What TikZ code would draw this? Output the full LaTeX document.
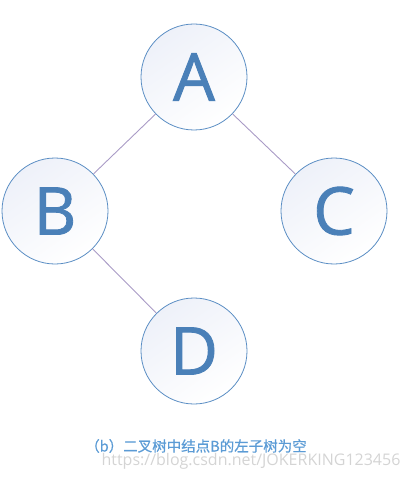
\documentclass[tikz,border=0pt]{standalone}
\usepackage{fontspec}
\setmainfont{Open Sans}
\newfontface\letterfont{Open Sans}[FakeBold=1.3]
\newfontface\cjk{Noto Sans CJK SC}[FakeBold=0.6]
\definecolor{nodeline}{HTML}{5B8EC4}
\definecolor{nodetext}{HTML}{4A80B8}
\definecolor{nodefill}{HTML}{EEF1F9}
\definecolor{edgeline}{HTML}{A99BC6}
\definecolor{captext}{HTML}{5B9BD5}
\definecolor{marktext}{HTML}{D4D4D4}
\begin{document}
\begin{tikzpicture}[x=1pt,y=-1pt,
    treenode/.style={circle,draw=nodeline,line width=0.8pt,minimum size=106pt,inner sep=0pt,
      top color=nodefill,bottom color=white,shading angle=35,
      text=nodetext,font=\letterfont\fontsize{66}{66}\selectfont},
    treeedge/.style={draw=edgeline,line width=0.9pt}]
    % page frame
    \useasboundingbox (0,0) rectangle (405,478);

    % tree nodes
    \foreach \name/\x/\y in {A/194/77,B/55/211,C/334/211,D/194/351} {
      \node[treenode] (\name) at (\x,\y) {\name};
    }

    % edges (B has no left child)
    \draw[treeedge] (A) -- (B);
    \draw[treeedge] (A) -- (C);
    \draw[treeedge] (B) -- (D);

    % caption
    \node[text=captext,font=\cjk\fontsize{14.5}{16}\selectfont] (cap) at (196,446) {（b）二叉树中结点B的左子树为空};
    \node[text=marktext,font=\fontsize{16}{18}\selectfont] (mark) at (251,461) {https://blog.csdn.net/JOKERKING123456};
  \end{tikzpicture}
\end{document}
